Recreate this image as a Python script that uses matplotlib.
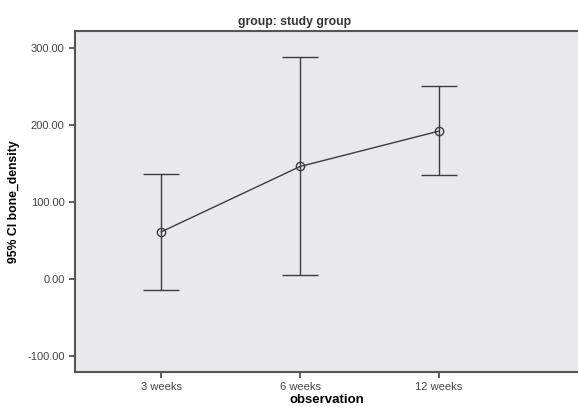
import matplotlib.pyplot as plt
import numpy as np

# Values (mean and 95% CI bounds per observation)
labels = ["3 weeks", "6 weeks", "12 weeks"]
means = [61, 146, 192]
lower = [-14, 5, 135]
upper = [136, 288, 250]
yticks = [-100, 0, 100, 200, 300]

plt.rcParams["font.family"] = ["Liberation Sans", "DejaVu Sans"]

fig = plt.figure(figsize=(5.78, 4.07), dpi=100)
ax = fig.add_axes([75 / 578, 35 / 407, 503 / 578, 341 / 407])
ax.set_facecolor("#E9E9EC")

x = np.arange(len(labels))
m = np.array(means)
err = [m - np.array(lower), np.array(upper) - m]
ax.errorbar(x, m, yerr=err, color="#3c3c3c", lw=1.0, elinewidth=1.0,
            capsize=13, capthick=1.0, marker="o", ms=6, mfc="none",
            mec="#3c3c3c", mew=1.0)

ax.set_xlim(-0.62, 3.0)
ax.set_ylim(-121, 322)
ax.set_xticks(x)
ax.set_xticklabels(labels)
ax.set_yticks(yticks)
ax.set_yticklabels([f"{v:.2f}" for v in yticks])
ax.tick_params(labelsize=8, colors="#444444", length=4, width=1.2)

for side in ("left", "bottom", "top"):
    ax.spines[side].set_color("#555555")
    ax.spines[side].set_linewidth(1.5)
ax.spines["right"].set_visible(False)

fig.text(295 / 578, 1 - 22 / 407, "group: study group", fontsize=8.8,
         fontweight="bold", color="#333333", ha="center", va="center")
ax.set_xlabel("observation", fontsize=9.5, fontweight="bold", labelpad=1)
ax.set_ylabel("95% CI bone_density", fontsize=8.8, fontweight="bold", labelpad=5)

fig.savefig("out.png", dpi=100)
